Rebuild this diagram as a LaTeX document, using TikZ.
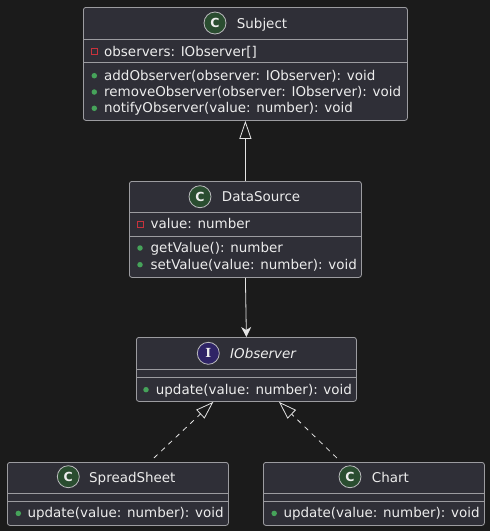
\documentclass[tikz,border=0pt]{standalone}
\usepackage{fontspec}
\setmainfont{DejaVu Sans}
\newfontfamily\badgeserif{DejaVu Serif}
\usetikzlibrary{arrows.meta,positioning}
\definecolor{umlbg}    {HTML}{1B1B1B}
\definecolor{umlbox}   {HTML}{2F2F37}
\definecolor{umlline}  {HTML}{9C9CA0}
\definecolor{umlarrow} {HTML}{E4E4E4}
\definecolor{umltext}  {HTML}{EDEDED}
\definecolor{umlclass} {HTML}{2A4D30}
\definecolor{umliface} {HTML}{2F2466}
\definecolor{umlpriv}  {HTML}{C8323C}
\definecolor{umlpub}   {HTML}{46A35A}

\begin{document}
\begin{tikzpicture}[
  x=1pt, y=-1pt,
  box/.style   ={draw=umlline,fill=umlbox,rounded corners=2.5pt,line width=0.8pt,
                 inner sep=0pt,anchor=north west},
  sep/.style   ={draw=umlline,line width=0.8pt},
  badge/.style ={circle,draw=umlline!70!white,line width=0.8pt,minimum size=22pt,
                 inner sep=0pt,text=umltext},
  cbadge/.style={badge,fill=umlclass,font=\fontsize{12.5}{12.5}\selectfont\bfseries},
  ibadge/.style={badge,fill=umliface,font=\badgeserif\fontsize{12.5}{12.5}\selectfont\bfseries},
  title/.style ={anchor=base west,inner sep=0pt,text=umltext,
                 font=\fontsize{13.45}{16}\selectfont},
  member/.style={title},
  priv/.style  ={rectangle,draw=umlpriv,line width=0.8pt,minimum size=6pt,inner sep=0pt},
  pub/.style   ={circle,fill=umlpub,minimum size=5.5pt,inner sep=0pt},
  ext/.style   ={draw=umlarrow,line width=0.8pt,-{Triangle[open,length=18pt,width=12pt]}},
  assoc/.style ={draw=umlarrow,line width=0.8pt,-{Stealth[length=10pt,width=10pt,inset=3pt]}},
  impl/.style  ={ext,dash pattern=on 5pt off 5pt}
]
\fill[umlbg] (0,0) rectangle (490,531);

%% ===== Subject =====
\node[box,minimum width=324pt,minimum height=113pt] (subject) at (83,7) {};
\draw[sep] (83,39) -- (407,39);
\draw[sep] (83,62.5) -- (407,62.5);
\node[cbadge] (subject-c) at (215,23) {C};
\node[title]  (subject-t) at (236.7,28.3) {Subject};
\node[priv]   (subject-a1i) at (94.3,51.7) {};
\node[member] (subject-a1)  at (104,56) {observers: IObserver[]};
\node[pub]    (subject-m1i) at (94.3,75.7) {};
\node[member] (subject-m1)  at (104,80) {addObserver(observer: IObserver): void};
\node[pub]    (subject-m2i) at (94.3,92) {};
\node[member] (subject-m2)  at (104,96.3) {removeObserver(observer: IObserver): void};
\node[pub]    (subject-m3i) at (94.3,108.3) {};
\node[member] (subject-m3)  at (104,112.6) {notifyObserver(value: number): void};

%% ===== DataSource =====
\node[box,minimum width=232pt,minimum height=96pt] (datasource) at (129,181) {};
\draw[sep] (129,212.7) -- (361,212.7);
\draw[sep] (129,236.7) -- (361,236.7);
\node[cbadge] (datasource-c) at (200,196.7) {C};
\node[title]  (datasource-t) at (221.7,201.5) {DataSource};
\node[priv]   (datasource-a1i) at (140,224.3) {};
\node[member] (datasource-a1)  at (150.5,228.8) {value: number};
\node[pub]    (datasource-m1i) at (140,248) {};
\node[member] (datasource-m1)  at (150.5,252.3) {getValue(): number};
\node[pub]    (datasource-m2i) at (140,264.7) {};
\node[member] (datasource-m2)  at (150.5,269) {setValue(value: number): void};

%% ===== IObserver =====
\node[box,minimum width=220pt,minimum height=64pt] (iobserver) at (136,337) {};
\draw[sep] (136,369.3) -- (356,369.3);
\draw[sep] (136,377.7) -- (356,377.7);
\node[ibadge] (iobserver-c) at (208.3,353.3) {I};
\node[title,font=\fontsize{13.45}{16}\selectfont\itshape] (iobserver-t) at (230,358) {IObserver};
\node[pub]    (iobserver-m1i) at (146,389.7) {};
\node[member] (iobserver-m1)  at (155.7,394) {update(value: number): void};

%% ===== SpreadSheet =====
\node[box,minimum width=221pt,minimum height=63pt] (spreadsheet) at (7,462) {};
\draw[sep] (7,493.3) -- (228,493.3);
\draw[sep] (7,501.7) -- (228,501.7);
\node[cbadge] (spreadsheet-c) at (68.3,476.7) {C};
\node[title]  (spreadsheet-t) at (89,482) {SpreadSheet};
\node[pub]    (spreadsheet-m1i) at (18.3,513.4) {};
\node[member] (spreadsheet-m1)  at (27.3,517.7) {update(value: number): void};

%% ===== Chart =====
\node[box,minimum width=221pt,minimum height=63pt] (chart) at (263,462) {};
\draw[sep] (263,493.3) -- (484,493.3);
\draw[sep] (263,501.7) -- (484,501.7);
\node[cbadge] (chart-c) at (350,476.7) {C};
\node[title]  (chart-t) at (371.7,482) {Chart};
\node[pub]    (chart-m1i) at (274.2,513.4) {};
\node[member] (chart-m1)  at (283.3,517.7) {update(value: number): void};

%% ===== Relations =====
\draw[ext]   (datasource.north) -- (subject.south);
\draw[assoc] (datasource.south) -- (iobserver.north);
\draw[impl]  ([xshift=36pt,yshift=4pt]spreadsheet.north) -- ([xshift=-33pt]iobserver.south);
\draw[impl]  ([xshift=-37pt,yshift=4pt]chart.north) -- ([xshift=32.5pt]iobserver.south);

\end{tikzpicture}
\end{document}
